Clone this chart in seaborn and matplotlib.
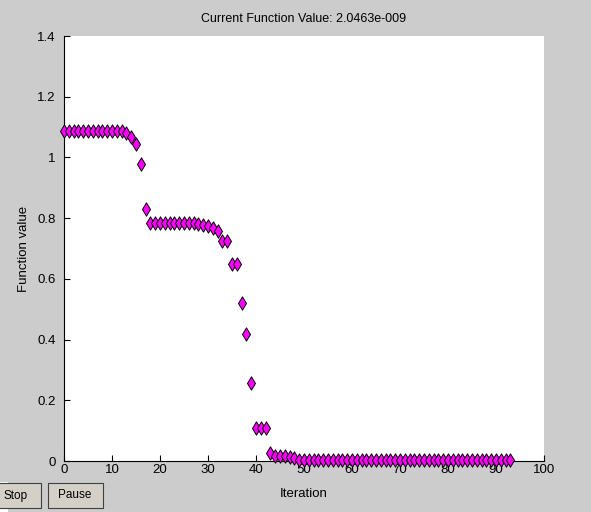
import matplotlib
matplotlib.use("Agg")
import matplotlib.pyplot as plt
import seaborn as sns
import pandas as pd
from matplotlib.patches import Rectangle

# ---- data ----
iterations = list(range(0, 94))
values_start = [1.088] * 13 + [1.082, 1.068, 1.043, 0.977, 0.830]          # 0..17
values_plateau = [0.785] * 9 + [0.784, 0.782, 0.779, 0.775, 0.766, 0.758]  # 18..32
values_drop = [0.726, 0.726, 0.649, 0.649, 0.520, 0.419, 0.258,
               0.108, 0.108, 0.108, 0.027]                                 # 33..43
values_tail = [0.018, 0.016, 0.015, 0.013, 0.011]                          # 44..48
values_zero = [0.002] * 45                                                 # 49..93
values = values_start + values_plateau + values_drop + values_tail + values_zero

x_ticks = [0, 10, 20, 30, 40, 50, 60, 70, 80, 90, 100]
y_ticks = [0, 0.2, 0.4, 0.6, 0.8, 1.0, 1.2, 1.4]
y_tick_labels = ["0", "0.2", "0.4", "0.6", "0.8", "1", "1.2", "1.4"]
title_text = "Current Function Value: 2.0463e-009"
x_label = "Iteration"
y_label = "Function value"
buttons = ["Stop", "Pause"]

df = pd.DataFrame({"Iteration": iterations, "Value": values})

sns.set_theme(style="white")
plt.rcParams["font.family"] = ["Liberation Sans", "DejaVu Sans"]

bg = "#cccccc"
fig = plt.figure(figsize=(5.91, 5.12), dpi=100, facecolor=bg)
ax = fig.add_axes([64 / 591, (512 - 461) / 512, (544 - 64) / 591, (461 - 36) / 512])
ax.set_facecolor("white")

sns.scatterplot(data=df, x="Iteration", y="Value", marker="d", s=46,
                color="#ff00ff", edgecolor="black", linewidth=0.7, ax=ax,
                zorder=3, clip_on=False)

ax.set_xlim(0, 100)
ax.set_ylim(0, 1.4)
ax.set_xticks(x_ticks)
ax.set_xticklabels([str(t) for t in x_ticks])
ax.set_yticks(y_ticks)
ax.set_yticklabels(y_tick_labels)
ax.tick_params(direction="in", length=4, width=0.8, colors="black",
               labelsize=9.5, bottom=True, left=True)
ax.tick_params(axis="y", pad=6)
ax.tick_params(axis="x", pad=2)
for side in ["top", "right"]:
    ax.spines[side].set_visible(False)
for side in ["left", "bottom"]:
    ax.spines[side].set_color("black")
    ax.spines[side].set_linewidth(0.8)

ax.set_title(title_text, fontsize=9, pad=10, color="black")
ax.set_xlabel(x_label, fontsize=9.5, labelpad=9, color="black")
ax.set_ylabel(y_label, fontsize=9.5, labelpad=5, color="black")

# white strip at lower-left corner
fig.patches.append(Rectangle((0, 0), 8 / 591, 30 / 512, transform=fig.transFigure,
                             facecolor="white", edgecolor="none", zorder=0))

# buttons (figure pixel coords): x, y_top, width, height, text centre x
btn_specs = [(-20, 483, 61, 25, 16), (48, 483, 55, 25, 75)]
for label, (bx, by, bw, bh, tx) in zip(buttons, btn_specs):
    y0 = (512 - by - bh) / 512
    rect = Rectangle((bx / 591, y0), bw / 591, bh / 512, transform=fig.transFigure,
                     facecolor="#d4d0c8", edgecolor="#404040", linewidth=0.8, zorder=2)
    fig.patches.append(rect)
    fig.text(tx / 591, y0 + bh / 2 / 512, label, ha="center", va="center",
             fontsize=8.5, color="black", zorder=3)

fig.savefig("out.png", dpi=100, facecolor=bg)
